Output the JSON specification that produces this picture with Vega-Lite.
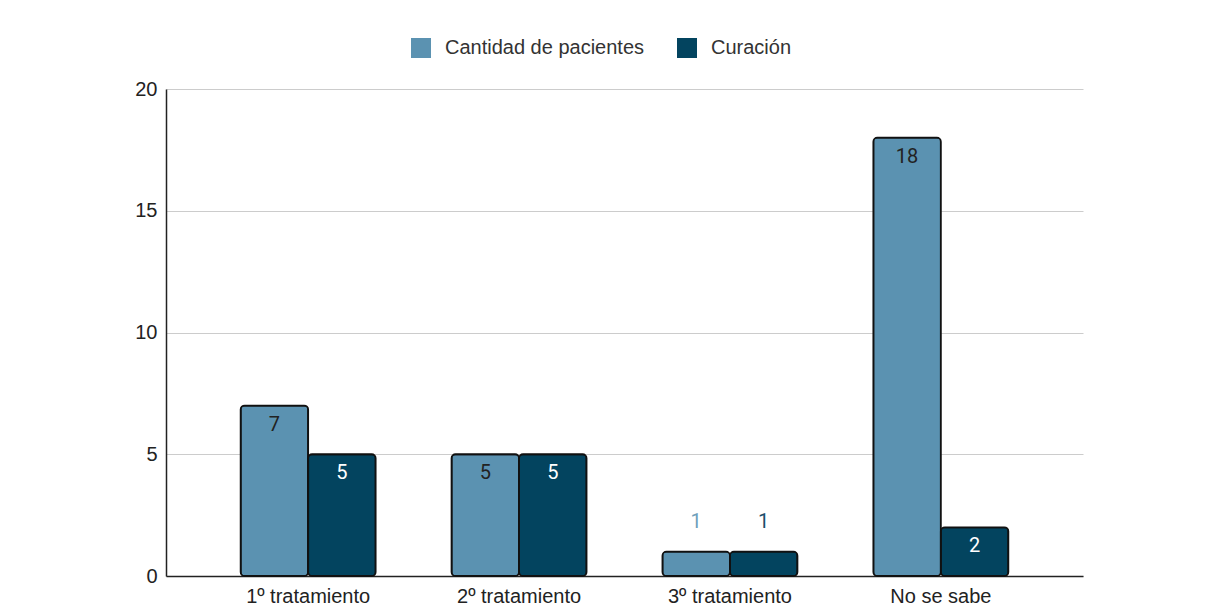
{
  "$schema": "https://vega.github.io/schema/vega-lite/v6.json",
  "width": 917,
  "height": 487,
  "autosize": "none",
  "padding": {"left": 166, "top": 89, "right": 132, "bottom": 36},
  "background": "white",
  "data": {
    "values": [
      {"tratamiento": "1º tratamiento", "serie": "Cantidad de pacientes", "valor": 7},
      {"tratamiento": "1º tratamiento", "serie": "Curación", "valor": 5},
      {"tratamiento": "2º tratamiento", "serie": "Cantidad de pacientes", "valor": 5},
      {"tratamiento": "2º tratamiento", "serie": "Curación", "valor": 5},
      {"tratamiento": "3º tratamiento", "serie": "Cantidad de pacientes", "valor": 1},
      {"tratamiento": "3º tratamiento", "serie": "Curación", "valor": 1},
      {"tratamiento": "No se sabe", "serie": "Cantidad de pacientes", "valor": 18},
      {"tratamiento": "No se sabe", "serie": "Curación", "valor": 2}
    ]
  },
  "encoding": {
    "x": {
      "field": "tratamiento",
      "type": "nominal",
      "sort": null,
      "scale": {"paddingInner": 0.36, "paddingOuter": 0.354},
      "axis": {
        "title": null,
        "labelAngle": 0,
        "labelFont": "Liberation Sans",
        "labelFontSize": 20,
        "labelColor": "#222222",
        "labelPadding": 10,
        "ticks": false,
        "domainColor": "#222222",
        "domainWidth": 1.5
      }
    },
    "xOffset": {
      "field": "serie",
      "type": "nominal",
      "scale": {"domain": ["Cantidad de pacientes", "Curación"], "paddingInner": 0, "paddingOuter": 0}
    },
    "y": {
      "field": "valor",
      "type": "quantitative",
      "scale": {"domain": [0, 20], "nice": false},
      "axis": {
        "title": null,
        "values": [0, 5, 10, 15, 20],
        "labelFont": "Liberation Sans",
        "labelFontSize": 20,
        "labelColor": "#222222",
        "labelPadding": 9,
        "ticks": false,
        "domainColor": "#222222",
        "domainWidth": 1.5,
        "gridColor": "#cccccc",
        "gridWidth": 1
      }
    }
  },
  "layer": [
    {
      "mark": {"type": "bar", "stroke": "#111111", "strokeWidth": 1.8, "cornerRadius": 4},
      "encoding": {
        "color": {
          "field": "serie",
          "type": "nominal",
          "scale": {"domain": ["Cantidad de pacientes", "Curación"], "range": ["#5b92b1", "#03445f"]},
          "legend": {
            "title": null,
            "orient": "none",
            "direction": "horizontal",
            "legendX": 245,
            "legendY": -51,
            "symbolType": "square",
            "symbolSize": 400,
            "symbolStrokeWidth": 0,
            "symbolOpacity": 1,
            "labelFont": "Liberation Sans",
            "labelFontSize": 20,
            "labelLimit": 0,
            "labelColor": "#333333",
            "labelOffset": 14,
            "columnPadding": 32
          }
        }
      }
    },
    {
      "transform": [{"filter": "datum.valor >= 2"}],
      "mark": {"type": "text", "font": "Roboto", "fontSize": 20, "baseline": "middle", "align": "center", "dy": 19},
      "encoding": {
        "text": {"field": "valor", "type": "quantitative"},
        "color": {
          "condition": {"test": "datum.serie === 'Curación'", "value": "#ffffff"},
          "value": "#222222"
        }
      }
    },
    {
      "transform": [{"filter": "datum.valor < 2"}],
      "mark": {"type": "text", "font": "Roboto", "fontSize": 20, "baseline": "middle", "align": "center", "dy": -30},
      "encoding": {
        "text": {"field": "valor", "type": "quantitative"},
        "color": {
          "condition": {"test": "datum.serie === 'Curación'", "value": "#1d4f6b"},
          "value": "#6f9fbb"
        }
      }
    }
  ],
  "config": {"view": {"stroke": null}}
}
